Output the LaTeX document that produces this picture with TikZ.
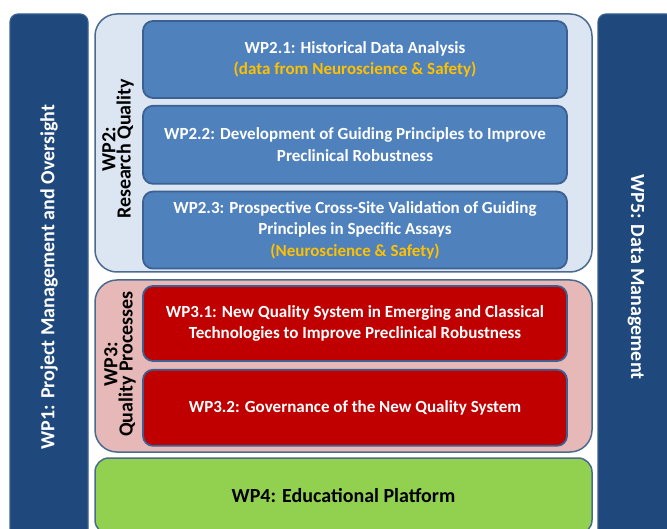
\documentclass[tikz,border=0pt]{standalone}
\usepackage{fontspec}
\setmainfont{Carlito}
\usetikzlibrary{positioning}
\definecolor{navy}{HTML}{1F497D}
\definecolor{barline}{HTML}{3A5F8C}
\definecolor{frameline}{HTML}{4A6B8E}
\definecolor{taskline}{HTML}{3B6091}
\definecolor{paleblue}{HTML}{DCE6F2}
\definecolor{taskblue}{HTML}{4F81BD}
\definecolor{rose}{HTML}{E6B9B8}
\definecolor{crimson}{HTML}{C00000}
\definecolor{leaf}{HTML}{92D050}
\definecolor{amber}{HTML}{FFC000}
\tikzstyle{wpbar}=[rectangle, rounded corners=8pt, align=center, fill=navy, draw=barline, line width=1.2pt, text=white]
\tikzstyle{wpframe}=[rectangle, rounded corners=22pt, align=center, draw=frameline, line width=1.5pt, minimum width=497pt]
\tikzstyle{task}=[rectangle, rounded corners=10pt, align=center, draw=taskline, line width=1.8pt, text=white, minimum width=424pt]
\tikzstyle{wplabel}=[rectangle, align=center, rotate=90, text=black]
\newcommand{\dtxt}{\fontsize{17}{21.5}\selectfont\bfseries}
\newcommand{\dbar}{\fontsize{20}{24}\selectfont\bfseries}
\newcommand{\dlbl}{\fontsize{20}{13}\selectfont\bfseries}

\begin{document}
\begin{tikzpicture}[auto, x=1pt, y=1pt]
    \useasboundingbox (0,0) rectangle (667,528);
    \fill [white] (0,0) rectangle (667,528);

    \node [wpbar, rotate=90, font=\dbar, minimum width=526pt, minimum height=78pt] (wp1) at (49,251) {WP1: Project Management and Oversight};
    \node [wpbar, rotate=-90, font=\dbar, minimum width=526pt, minimum height=76pt] (wp5) at (636,251) {WP5: Data Management};

    \node [wpframe, fill=paleblue, minimum height=258pt] (wp2) at (343.5,385) {};
    \node [task, fill=taskblue, font=\dtxt, minimum height=77pt] (wp21) at (355,468.5) {WP2.1: Historical Data Analysis\\\textcolor{amber}{(data from Neuroscience \& Safety)}};
    \node [task, fill=taskblue, font=\dtxt, minimum height=78pt, below=6pt of wp21] (wp22) {WP2.2: Development of Guiding Principles to Improve\\Preclinical Robustness};
    \node [task, fill=taskblue, font=\dtxt, minimum height=77pt, below=6pt of wp22] (wp23) {WP2.3: Prospective Cross-Site Validation of Guiding\\Principles in Specific Assays\\\textcolor{amber}{(Neuroscience \& Safety)}};
    \node [wplabel, font=\dlbl] (wp2lbl) at (118,379) {WP2:\\Research Quality};

    \node [wpframe, fill=rose, minimum height=172pt] (wp3) at (343.5,162) {};
    \node [task, fill=crimson, font=\dtxt, minimum height=75pt] (wp31) at (355,204.5) {WP3.1: New Quality System in Emerging and Classical\\Technologies to Improve Preclinical Robustness};
    \node [task, fill=crimson, font=\dtxt, minimum height=76pt, below=7pt of wp31] (wp32) {WP3.2: Governance of the New Quality System};
    \node [wplabel, font=\dlbl] (wp3lbl) at (120,164) {WP3:\\Quality Processes};

    \node [wpframe, fill=leaf, rounded corners=14pt, font=\dbar, minimum height=76pt] (wp4) at (343.5,32) {WP4: Educational Platform};
\end{tikzpicture}
\end{document}
